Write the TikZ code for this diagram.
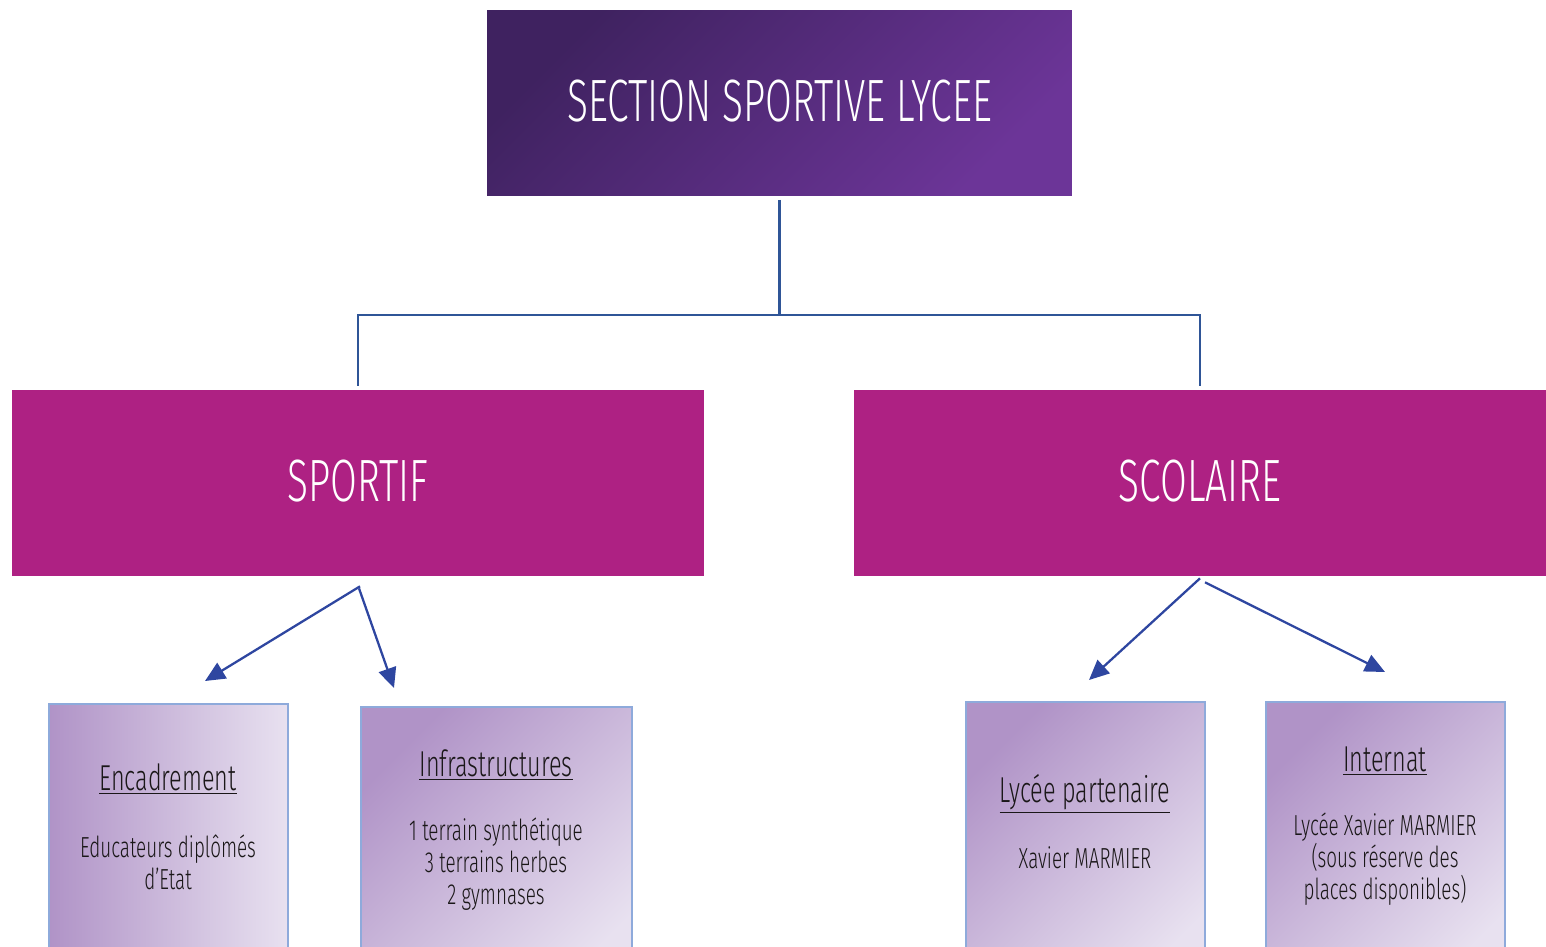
\documentclass[tikz,border=0pt]{standalone}
\usepackage{fontspec}
\setmainfont{Fira Sans Light}[FakeStretch=0.65]
\usetikzlibrary{arrows.meta}
\definecolor{topdark}{HTML}{3F2260}
\definecolor{toplight}{HTML}{6C3598}
\definecolor{sportmag}{HTML}{AE2183}
\definecolor{treeblue}{HTML}{2F5597}
\definecolor{arrblue}{HTML}{2E46A0}
\definecolor{cardedge}{HTML}{8EAADB}
\definecolor{carddark}{HTML}{B093C7}
\definecolor{cardlight}{HTML}{E8E1F0}
\definecolor{txt}{HTML}{1A1718}
\begin{document}
\begin{tikzpicture}[x=0.02cm,y=-0.02cm,
  head/.style={minimum width=11.7cm,minimum height=3.72cm,inner sep=0pt,text=white,font=\fontsize{34}{40}\selectfont},
  branch/.style={head,fill=sportmag,minimum width=13.86cm},
  card/.style={draw=cardedge,line width=1.1pt,minimum height=5.8cm,inner sep=0pt,anchor=north,left color=carddark,right color=cardlight},
  heading/.style={text=txt,font=\fontsize{20.5}{24}\selectfont},
  info/.style={text=txt,align=center,font=\fontsize{16.5}{18.2}\selectfont},
  tree/.style={draw=treeblue,line width=1.2pt},
  arr/.style={draw=arrblue,line width=1.3pt,-{Triangle[length=0.4cm,width=0.36cm]}}]
\clip (0,0) rectangle (1546,947);
\node[head,left color=topdark,right color=toplight,shading angle=45] (lycee) at (779.5,103) {\raisebox{3pt}{SECTION SPORTIVE LYCEE}};
\node[branch] (sportif) at (358,483) {\raisebox{3pt}{SPORTIF}};
\node[branch] (scolaire) at (1200,483) {\raisebox{3pt}{SCOLAIRE}};
\coordinate (fork) at (0,315);
\draw[tree,shorten <=2pt] (lycee.south) -- (lycee.south |- fork);
\draw[tree,shorten >=2pt] (lycee.south |- fork) -| (sportif.north);
\draw[tree,shorten >=2pt] (lycee.south |- fork) -| (scolaire.north);

\node[card,minimum width=4.78cm] (enc) at (168.5,703) {};
\node[card,minimum width=5.42cm,shading angle=45] (infra) at (496.5,706) {};
\node[card,minimum width=4.78cm,shading angle=45] (part) at (1085.5,701) {};
\node[card,minimum width=4.78cm,shading angle=45] (intern) at (1385.5,701) {};

\coordinate (encTip) at (205,681);
\coordinate (infraTip) at (394,688);
\coordinate (partTip) at (1089,680);
\coordinate (internTip) at (1385,672);
\draw[arr] (sportif.south) ++(2,10) -- (encTip);
\draw[arr] (sportif.south) ++(1,12) -- (infraTip);
\draw[arr] (scolaire.south) ++(0,2) -- (partTip);
\draw[arr] (scolaire.south) ++(5,6) -- (internTip);

\node[heading] (encT) at (168,779) {\underline{Encadrement}};
\node[info] (encB) at (168,862) {Educateurs diplômés\\d’Etat};
\node[heading] (infraT) at (496,765) {\underline{Infrastructures}};
\node[info] (infraB) at (496,864) {1 terrain synthétique\\3 terrains herbes\\2 gymnases};
\node[heading] (partT) at (1085,794) {\underline{Lycée partenaire}};
\node[info] (partB) at (1085,858) {Xavier MARMIER};
\node[heading] (internT) at (1385,761) {\underline{Internat}};
\node[info] (internB) at (1385,859) {Lycée Xavier MARMIER\\(sous réserve des\\places disponibles)};
\end{tikzpicture}
\end{document}
